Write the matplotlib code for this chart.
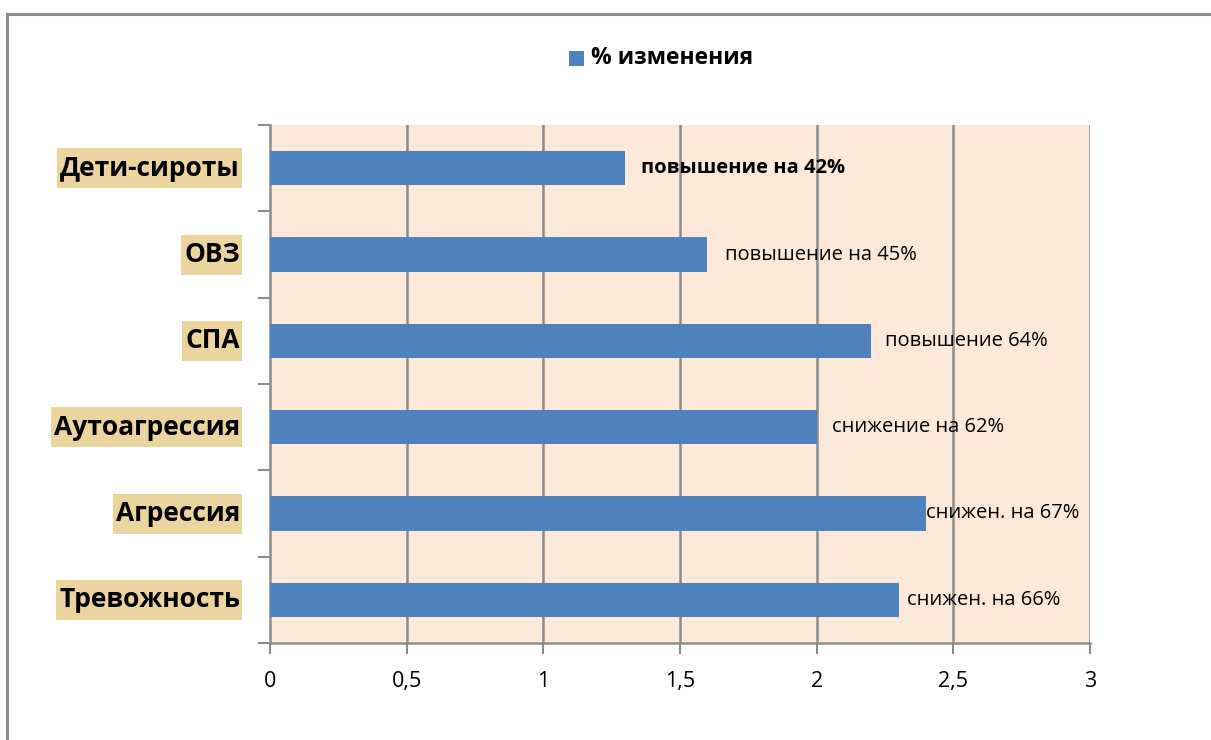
import numpy as np
import matplotlib
matplotlib.use("Agg")
from matplotlib import pyplot as plt
from matplotlib.patches import Rectangle
from matplotlib.lines import Line2D

# data, bottom to top
categories = ["Тревожность", "Агрессия", "Аутоагрессия", "СПА", "ОВЗ", "Дети-сироты"]
values = [2.3, 2.4, 2.0, 2.2, 1.6, 1.3]
bar_labels = ["снижен. на 66%", "снижен. на 67%", "снижение на 62%",
              "повышение 64%", "повышение на 45%", "повышение на 42%"]
label_bold = [False, False, False, False, False, True]
label_gap = [8, 0, 15, 14, 18, 16]   # px gap between bar end and its label
series_name = "% изменения"
xticks = [0, 0.5, 1, 1.5, 2, 2.5, 3]
xtick_labels = ["0", "0,5", "1", "1,5", "2", "2,5", "3"]

plt.rcParams['font.family'] = ['Open Sans', 'DejaVu Sans']

W, H = 1211, 740
fig = plt.figure(figsize=(W / 100, H / 100), dpi=100)

# outer chart frame (top and left edges visible)
fig.add_artist(Line2D([7 / W, 1], [1 - 14 / H, 1 - 14 / H], color="#8c8c8c", lw=2.2))
fig.add_artist(Line2D([7 / W, 7 / W], [0, 1 - 14 / H], color="#8c8c8c", lw=2.2))

ax = fig.add_axes([270 / W, 1 - 643 / H, 820 / W, 518 / H])
ax.set_facecolor("#fde9da")

y = np.arange(len(categories))
ax.barh(y, values, height=0.4, color="#4f81bd", zorder=3)

ax.set_xlim(0, 3)
ax.set_ylim(-0.5, len(categories) - 0.5)

for xv in xticks[1:]:
    ax.axvline(xv, color="#8c8c8c", lw=1.8, zorder=1)

ax.set_xticks(xticks)
ax.set_xticklabels(xtick_labels, fontsize=15.5)
ax.tick_params(axis="x", length=8, width=1.5, color="#8c8c8c", pad=12)

# y ticks at category boundaries
ax.set_yticks(np.arange(-0.5, len(categories), 1.0))
ax.set_yticklabels([])
ax.tick_params(axis="y", length=9, width=1.5, color="#8c8c8c")

for s in ["top", "right"]:
    ax.spines[s].set_visible(False)
for s in ["left", "bottom"]:
    ax.spines[s].set_color("#8c8c8c")
    ax.spines[s].set_linewidth(1.8)

# category labels
cat_texts = []
for yi, name in zip(y, categories):
    t = ax.annotate(name, xy=(0, yi), xycoords="data", xytext=(-30, 0),
                    textcoords="offset pixels", ha="right", va="center",
                    fontsize=19, fontweight="bold", color="black", zorder=5)
    cat_texts.append(t)

# value labels
for yi, v, lab, b, g in zip(y, values, bar_labels, label_bold, label_gap):
    ax.annotate(lab, xy=(v, yi), xytext=(g, 0), textcoords="offset pixels",
                ha="left", va="center", fontsize=14.5,
                fontweight="bold" if b else "normal", zorder=5)

# tan highlight boxes behind the category labels
fig.canvas.draw()
r = fig.canvas.get_renderer()
for t in cat_texts:
    bb = t.get_window_extent(r)
    yc = (bb.y0 + bb.y1) / 2
    fig.add_artist(Rectangle(((bb.x0 - 3) / W, (yc - 20) / H), (bb.width + 5) / W, 40 / H,
                             transform=fig.transFigure, fc="#ecd49f", ec="none", zorder=0))

# legend
fig.add_artist(Rectangle((569 / W, 1 - 66 / H), 15 / W, 15 / H,
                         transform=fig.transFigure, fc="#4f81bd", ec="none"))
fig.text(591 / W, 1 - 58 / H, series_name, ha="left", va="center",
         fontsize=16.5, fontweight="bold")

fig.savefig("out.png", dpi=100)
